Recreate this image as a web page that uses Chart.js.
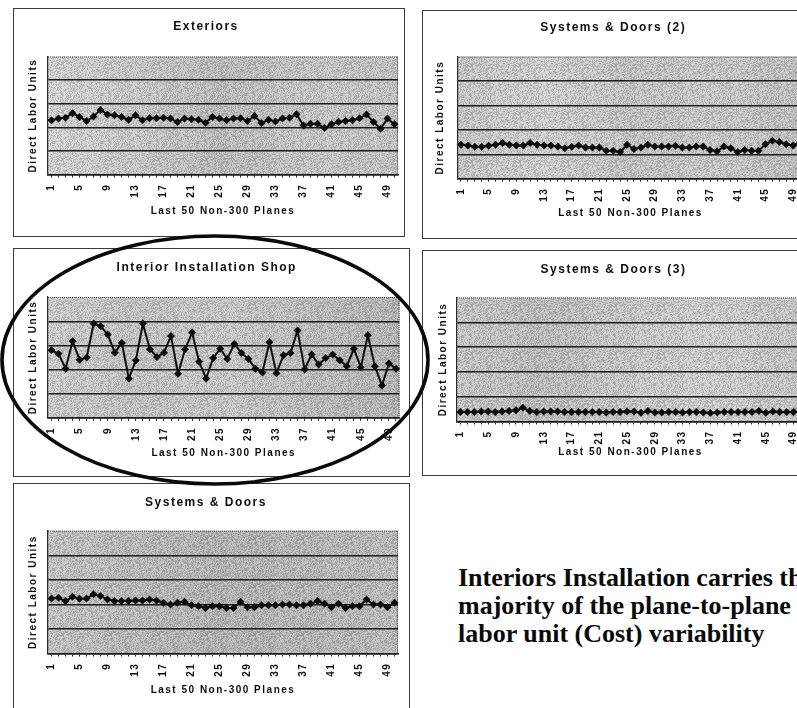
<!DOCTYPE html>
<html><head><meta charset="utf-8">
<script src="https://cdn.jsdelivr.net/npm/chart.js@4.4.1/dist/chart.umd.min.js"></script>
<style>
html,body{margin:0;padding:0;background:#fff;width:797px;height:708px;overflow:hidden;position:relative;}
.panel{position:absolute;border:1px solid #3a3a3a;background:#fff;box-sizing:border-box;overflow:hidden;}
.panel canvas{position:absolute;left:0;top:0;}
#note{position:absolute;left:458px;top:564px;font:bold 26px "Liberation Serif","Times New Roman",serif;line-height:28px;white-space:nowrap;color:#0a0a0a;}
#ring{position:absolute;left:0;top:0;pointer-events:none;}
</style></head><body>
<div id="note">Interiors Installation carries the<br>majority of the plane-to-plane<br>labor unit (Cost) variability</div>
<svg id="ring" width="797" height="708"><ellipse cx="215" cy="360" rx="213" ry="124" fill="none" stroke="#0a0a0a" stroke-width="3.6"/></svg>
<script>
// ---- data ----
const planes = ['1','2','3','4','5','6','7','8','9','10','11','12','13','14','15','16','17','18','19','20','21','22','23','24','25','26','27','28','29','30','31','32','33','34','35','36','37','38','39','40','41','42','43','44','45','46','47','48','49','50'];
const tickLabels = ['1','5','9','13','17','21','25','29','33','37','41','45','49'];
const yTitle = 'Direct Labor Units';
const xTitle = 'Last 50 Non-300 Planes';

const exteriors = [2.30,2.37,2.41,2.60,2.44,2.27,2.46,2.74,2.54,2.51,2.44,2.32,2.51,2.30,2.39,2.39,2.41,2.37,2.23,2.37,2.34,2.32,2.20,2.44,2.37,2.30,2.37,2.39,2.27,2.48,2.18,2.32,2.25,2.37,2.41,2.55,2.08,2.15,2.15,1.97,2.13,2.23,2.27,2.30,2.39,2.54,2.23,1.94,2.37,2.13];
const systemsDoors2 = [1.39,1.36,1.31,1.31,1.35,1.39,1.46,1.39,1.36,1.36,1.46,1.39,1.36,1.36,1.32,1.25,1.31,1.36,1.28,1.28,1.28,1.14,1.14,1.09,1.39,1.22,1.28,1.39,1.32,1.32,1.32,1.35,1.28,1.28,1.32,1.32,1.18,1.12,1.32,1.25,1.09,1.18,1.14,1.14,1.41,1.55,1.50,1.41,1.36,1.50];
const interiorInstallation = [2.80,2.66,2.04,3.17,2.41,2.50,3.90,3.79,3.45,2.70,3.10,1.63,2.39,3.90,2.84,2.52,2.70,3.39,1.83,2.84,3.53,2.32,1.63,2.48,2.86,2.44,3.06,2.69,2.44,2.04,1.88,3.13,1.85,2.59,2.69,3.62,2.00,2.62,2.21,2.48,2.62,2.39,2.14,2.86,2.10,3.42,2.14,1.34,2.25,2.04];
const systemsDoors3 = [0.38,0.38,0.38,0.40,0.40,0.38,0.40,0.42,0.45,0.55,0.42,0.38,0.40,0.40,0.40,0.38,0.38,0.38,0.38,0.38,0.38,0.36,0.38,0.38,0.40,0.40,0.35,0.42,0.36,0.36,0.38,0.38,0.36,0.38,0.38,0.36,0.34,0.36,0.38,0.38,0.38,0.38,0.38,0.42,0.35,0.40,0.38,0.38,0.38,0.40];
const systemsDoors = [2.24,2.27,2.14,2.31,2.23,2.24,2.41,2.34,2.20,2.14,2.14,2.14,2.16,2.16,2.20,2.16,2.07,2.00,2.07,2.11,1.97,1.93,1.86,1.93,1.93,1.86,1.86,2.11,1.89,1.89,1.97,1.97,1.97,2.00,2.00,1.97,1.97,2.03,2.14,2.03,1.89,2.03,1.86,1.93,1.93,2.20,2.00,2.00,1.89,2.07];

// ---- layout of the five panels (page pixels) ----
const panels = [
  {title:'Exteriors', values:exteriors, box:{x:13,y:8,w:392,h:229}, plot:{l:48,t:56.5,r:398,b:174.6}, titleY:26.7, yTitleX:33.3, xTitleY:211, shade:['#d4d4d4','#c8c8c8','#bababa','#c6c6c6','#c2c2c2']},
  {title:'Systems & Doors (2)', values:systemsDoors2, box:{x:422,y:10,w:392,h:229}, plot:{l:457.5,t:56.6,r:803.5,b:178.7}, titleY:28, yTitleX:440, xTitleY:213, shade:['#c6c6c6','#d0d0d0','#c3c3c3','#c8c8c8','#bdbdbd']},
  {title:'Interior Installation Shop', values:interiorInstallation, box:{x:13,y:248,w:397,h:229}, plot:{l:48,t:297,r:399.5,b:418}, titleY:268, yTitleX:33, xTitleY:453, shade:['#cdcdcd','#c2c2c2','#c8c8c8','#bcbcbc','#b3b3b3']},
  {title:'Systems & Doors (3)', values:systemsDoors3, box:{x:422,y:250,w:392,h:226}, plot:{l:457,t:297.5,r:804,b:421.5}, titleY:270, yTitleX:443, xTitleY:452, shade:['#c6c6c6','#bbbbbb','#c8c8c8','#cfcfcf','#c3c3c3']},
  {title:'Systems & Doors', values:systemsDoors, box:{x:13,y:483,w:397,h:240}, plot:{l:48,t:530.7,r:398,b:653.6}, titleY:503, yTitleX:33, xTitleY:690, shade:['#c2c2c2','#b8b8b8','#b2b2b2','#b5b5b5','#bbbbbb']}
];

const FONT = '"Liberation Sans", Arial, sans-serif';

const spacing = {id:'spacing',
  beforeLayout(c){ c.ctx.letterSpacing = '1.5px'; },
  beforeDraw(c){ c.ctx.letterSpacing = '1.5px'; }
};

// fixed print-like grain tile (decoration only)
function grainTile(){
  const n = 48;
  const p = document.createElement('canvas'); p.width = n; p.height = n;
  const g = p.getContext('2d');
  const img = g.createImageData(n, n);
  for (let y = 0; y < n; y++) for (let x = 0; x < n; x++) {
    const h = Math.abs(Math.sin(x*12.9898 + y*78.233) * 43758.5453) % 1;
    const i = (y*n + x)*4;
    const v = h < 0.5 ? 70 : 255;
    img.data[i] = img.data[i+1] = img.data[i+2] = v;
    img.data[i+3] = Math.round(Math.abs(h - 0.5) * 150);
  }
  g.putImageData(img, 0, 0);
  return p;
}
const grain = grainTile();

const plotBg = {id:'plotBg',
  beforeDraw(chart, args, opts){
    const {ctx, chartArea:a} = chart;
    ctx.save();
    const g = ctx.createLinearGradient(a.left,0,a.right,0);
    const s = opts.shade;
    s.forEach((c,i)=>g.addColorStop(i/(s.length-1), c));
    ctx.fillStyle = g;
    ctx.fillRect(a.left,a.top,a.width,a.height);
    ctx.fillStyle = ctx.createPattern(grain,'repeat');
    ctx.fillRect(a.left,a.top,a.width,a.height);
    ctx.strokeStyle = 'rgba(40,40,40,0.8)';
    ctx.lineWidth = 1;
    ctx.setLineDash([1,1]);
    ctx.beginPath();
    ctx.moveTo(a.left, a.top+0.5); ctx.lineTo(a.right, a.top+0.5);
    ctx.moveTo(a.right-0.5, a.top); ctx.lineTo(a.right-0.5, a.bottom);
    ctx.stroke();
    ctx.restore();
  }
};

function build(p){
  const ox = p.box.x + 1, oy = p.box.y + 1;
  const W = p.box.w - 2, H = p.box.h - 2;
  const div = document.createElement('div');
  div.className = 'panel';
  Object.assign(div.style, {left:p.box.x+'px', top:p.box.y+'px', width:p.box.w+'px', height:p.box.h+'px'});
  const cv = document.createElement('canvas');
  cv.width = W; cv.height = H; cv.style.width = W+'px'; cv.style.height = H+'px';
  div.appendChild(cv);
  document.body.insertBefore(div, document.getElementById('note'));
  const pl = p.plot.l - ox, pt = p.plot.t - oy, pr = p.plot.r - ox, pb = p.plot.b - oy;
  const tSize = 12, tLH = tSize*1.2;
  const tPadTop = (p.titleY - oy) - tLH/2;
  const tPadBot = pt - tPadTop - tLH;
  new Chart(cv, {
    type:'line',
    data:{labels:planes, datasets:[{data:p.values, borderColor:'#0d0d0d', borderWidth:2,
      pointStyle:'rectRot', pointRadius:4, pointBackgroundColor:'#0d0d0d', pointBorderColor:'#0d0d0d', pointBorderWidth:0,
      tension:0, fill:false}]},
    options:{
      responsive:false, animation:false, devicePixelRatio:1,
      layout:{padding:{left:0, top:0, right:W - pr, bottom:0}},
      plugins:{
        legend:{display:false}, tooltip:{enabled:false},
        title:{display:true, text:p.title, color:'#0d0d0d', font:{family:FONT, size:tSize, weight:'bold'}, padding:{top:tPadTop, bottom:tPadBot}},
        plotBg:{shade:p.shade}
      },
      scales:{
        x:{type:'category', offset:true,
          grid:{display:true, drawOnChartArea:false, drawTicks:true, tickLength:3, color:'#333', lineWidth:1},
          border:{display:true, color:'#1a1a1a', width:1.4},
          ticks:{autoSkip:false, maxRotation:90, minRotation:90, padding:6, color:'#0d0d0d',
            font:{family:FONT, size:10, weight:'bold'},
            callback:(v,i)=> tickLabels.includes(planes[i]) ? planes[i] : ''},
          title:{display:true, text:xTitle, color:'#0d0d0d', font:{family:FONT, size:10, weight:'bold'},
            padding:{top:0, bottom:H - (p.xTitleY - oy) - 6}},
          afterFit:(s)=>{ s.height = H - pb; s.paddingLeft = 0; s.paddingRight = 0; }
        },
        y:{min:0, max:5,
          ticks:{display:false, stepSize:1},
          grid:{drawTicks:false, color:(c)=> (c.tick && (c.tick.value===5)) ? 'rgba(0,0,0,0)' : '#1c1c1c', lineWidth:1.4},
          border:{display:true, color:'#2a2a2a', width:1.2},
          title:{display:true, text:yTitle, color:'#0d0d0d', font:{family:FONT, size:10, weight:'bold'},
            padding:{top:(p.yTitleX - ox) - 6, bottom:0}},
          afterFit:(s)=>{ s.width = pl; s.paddingTop = 0; s.paddingBottom = 0; }
        }
      }
    },
    plugins:[spacing, plotBg]
  });
}
panels.forEach(build);
</script>
</body></html>
